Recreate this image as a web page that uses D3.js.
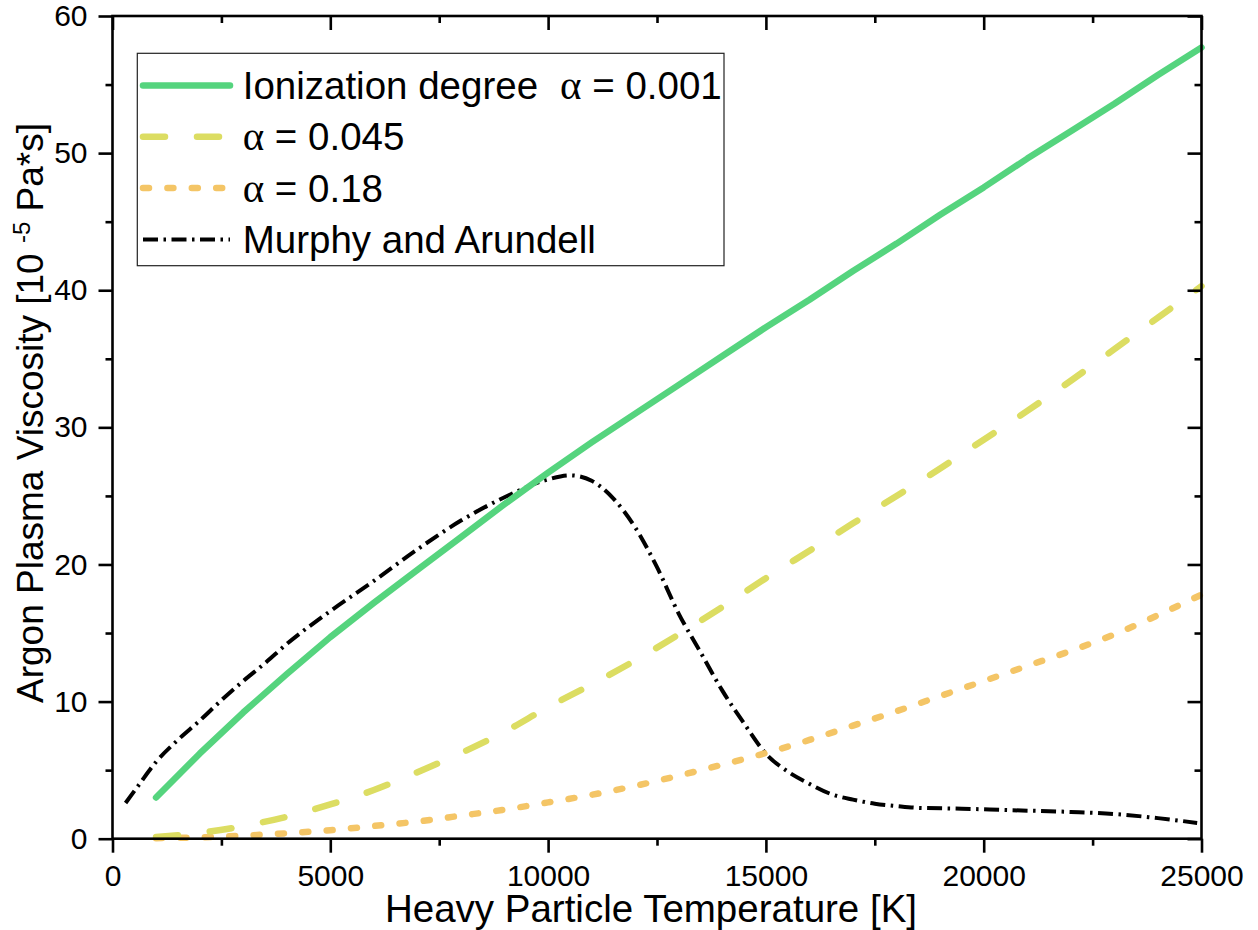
<!DOCTYPE html>
<html>
<head>
<meta charset="utf-8">
<script src="https://cdn.jsdelivr.net/npm/d3@7"></script>
<style>
  html, body { margin: 0; padding: 0; background: #fff; }
  svg { display: block; }
  text { font-family: "Liberation Sans", Arial, sans-serif; fill: #000; }
</style>
</head>
<body>
<svg id="chart" width="1258" height="930"></svg>
<script>
// ---------- data ----------
const tempGrid = [1000,2000,3000,4000,5000,6000,7000,8000,9000,10000,11000,12000,13000,
                  14000,15000,16000,17000,18000,19000,20000,21000,22000,23000,24000,25000];
const alpha001 = [3.0,6.2,9.2,12.0,14.7,17.2,19.6,22.0,24.4,26.7,28.9,31.0,33.1,
                  35.2,37.3,39.3,41.4,43.4,45.5,47.5,49.6,51.6,53.6,55.7,57.7];
const alpha045 = [0.12,0.42,0.92,1.6,2.5,3.55,4.85,6.25,7.8,9.6,11.25,13.0,14.9,
                  16.9,19.0,21.0,23.0,25.0,27.0,29.1,31.2,33.4,35.7,38.0,40.3];
const alpha18  = [0.04,0.1,0.22,0.4,0.62,0.93,1.25,1.68,2.12,2.65,3.2,3.85,4.6,
                  5.4,6.25,7.2,8.25,9.3,10.4,11.5,12.6,13.7,14.9,16.3,17.8];
const murphyT  = [300,600,1000,1500,2000,2500,3000,3500,4000,5000,6000,7000,8000,9000,
                  10000,10500,11000,11500,12000,12500,13000,13500,14000,14500,15000,15500,
                  16000,16500,17000,17500,18000,18500,19500,20500,22000,23000,24000,24900];
const murphyV  = [2.6,3.9,5.6,7.2,8.6,10.1,11.5,12.8,14.2,16.6,18.8,21.1,23.2,24.9,
                  26.2,26.5,26.1,24.8,22.7,19.8,16.4,13.6,10.8,8.4,6.2,4.9,
                  4.0,3.25,2.85,2.55,2.38,2.25,2.19,2.09,1.95,1.8,1.5,1.15];

const xMajor = [0,5000,10000,15000,20000,25000];
const xMinor = [2500,7500,12500,17500,22500];
const yMajor = [0,10,20,30,40,50,60];
const yMinor = [5,15,25,35,45,55];

const seriesNames = ["Ionization degree", "\u03B1 = 0.045", "\u03B1 = 0.18", "Murphy and Arundell"];

// ---------- layout ----------
const svg = d3.select("#chart");
const L = 112.5, R = 1201.5, T = 16, B = 838.7;
const x = d3.scaleLinear().domain([0, 25000]).range([L, R]);
const y = d3.scaleLinear().domain([0, 60]).range([B, T]);

const styles = [
  {color: "#55d47e", width: 6.5, dash: null, cap: "round", curve: d3.curveLinear},
  {color: "#dcdd62", width: 6.5, dash: "22,32", cap: "round", curve: d3.curveMonotoneX},
  {color: "#f4c566", width: 6.5, dash: "6,18.4", cap: "round", curve: d3.curveMonotoneX},
  {color: "#000000", width: 4, dash: "15,5.5,2.5,5.5", cap: "butt", curve: d3.curveMonotoneX}
];

const series = [
  tempGrid.map((t,i) => [t, alpha001[i]]),
  tempGrid.map((t,i) => [t, alpha045[i]]),
  tempGrid.map((t,i) => [t, alpha18[i]]),
  murphyT.map((t,i) => [t, murphyV[i]])
];

// ---------- lines ----------
const order = [3, 2, 1, 0];
order.forEach(k => {
  const s = styles[k];
  const line = d3.line().x(d => x(d[0])).y(d => y(d[1])).curve(s.curve);
  svg.append("path")
    .datum(series[k])
    .attr("d", line)
    .attr("fill", "none")
    .attr("stroke", s.color)
    .attr("stroke-width", s.width)
    .attr("stroke-linecap", s.cap)
    .attr("stroke-linejoin", "round")
    .attr("stroke-dasharray", s.dash);
});

// ---------- axes ----------
const axisW = 2.6;
function styleAxis(g) {
  g.select(".domain").remove();
  g.selectAll("line").attr("stroke", "#000").attr("stroke-width", axisW);
  g.selectAll("text").style("font-family", '"Liberation Sans", Arial, sans-serif').style("font-size", "30px").attr("fill", "#000");
}
svg.append("g").attr("transform", `translate(0,${B})`)
  .call(d3.axisBottom(x).tickValues(xMajor).tickSize(14).tickPadding(12).tickFormat(d3.format("d")))
  .call(styleAxis);
svg.append("g").attr("transform", `translate(0,${B})`)
  .call(d3.axisBottom(x).tickValues(xMinor).tickSize(7).tickFormat(""))
  .call(styleAxis);
svg.append("g").attr("transform", `translate(0,${T})`)
  .call(d3.axisTop(x).tickValues(xMajor).tickSize(-14).tickFormat(""))
  .call(styleAxis);
svg.append("g").attr("transform", `translate(0,${T})`)
  .call(d3.axisTop(x).tickValues(xMinor).tickSize(-7).tickFormat(""))
  .call(styleAxis);
svg.append("g").attr("transform", `translate(${L},0)`)
  .call(d3.axisLeft(y).tickValues(yMajor).tickSize(14).tickPadding(11).tickFormat(d3.format("d")))
  .call(styleAxis);
svg.append("g").attr("transform", `translate(${L},0)`)
  .call(d3.axisLeft(y).tickValues(yMinor).tickSize(7).tickFormat(""))
  .call(styleAxis);
svg.append("g").attr("transform", `translate(${R},0)`)
  .call(d3.axisRight(y).tickValues(yMajor).tickSize(-14).tickFormat(""))
  .call(styleAxis);
svg.append("g").attr("transform", `translate(${R},0)`)
  .call(d3.axisRight(y).tickValues(yMinor).tickSize(-7).tickFormat(""))
  .call(styleAxis);

svg.append("rect")
  .attr("x", L).attr("y", T).attr("width", R - L).attr("height", B - T)
  .attr("fill", "none").attr("stroke", "#000").attr("stroke-width", axisW);

// ---------- axis titles ----------
svg.append("text")
  .attr("x", 651).attr("y", 921.5)
  .attr("text-anchor", "middle")
  .style("font-size", "38.5px")
  .text("Heavy Particle Temperature [K]");

const yt = svg.append("text")
  .attr("transform", "translate(43,413) rotate(-90)")
  .attr("text-anchor", "middle")
  .style("font-size", "37px");
yt.append("tspan").text("Argon Plasma Viscosity [10 ");
yt.append("tspan").attr("dy", -13).style("font-size", "24px").text("-5");
yt.append("tspan").attr("dy", 13).text("\u00A0Pa*s]");

// ---------- legend ----------
const lg = svg.append("g");
lg.append("rect")
  .attr("x", 137.3).attr("y", 53.3).attr("width", 724 - 137.3).attr("height", 265.7 - 53.3)
  .attr("fill", "#fff").attr("stroke", "#222").attr("stroke-width", 1.2);

const serif = '"Liberation Serif", "Times New Roman", serif';
const rowY = i => 85.5 + i * 51.3;
seriesNames.forEach((name, i) => {
  const s = styles[i];
  lg.append("line")
    .attr("x1", 143).attr("x2", 230)
    .attr("y1", rowY(i)).attr("y2", rowY(i))
    .attr("stroke", s.color).attr("stroke-width", s.width)
    .attr("stroke-linecap", s.cap).attr("stroke-dasharray", s.dash);
  const t = lg.append("text")
    .attr("x", 242.7).attr("y", rowY(i) + 13.5)
    .style("font-size", "38.5px");
  if (i === 0) {
    t.append("tspan").text(name);
    t.append("tspan").attr("dx", 22).style("font-family", serif).style("font-size", "41px").text("\u03B1");
    t.append("tspan").text("\u00A0=\u00A00.001");
  } else if (name.startsWith("\u03B1")) {
    t.append("tspan").style("font-family", serif).style("font-size", "41px").text("\u03B1");
    t.append("tspan").text(name.slice(1).replace(/ /g, "\u00A0"));
  } else {
    t.text(name);
  }
});
</script>
</body>
</html>
